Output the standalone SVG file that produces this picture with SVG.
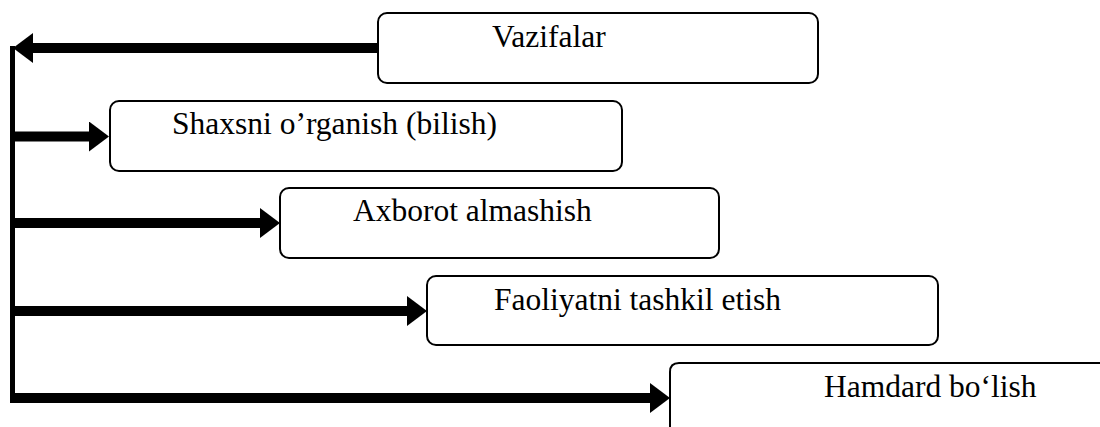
<svg xmlns="http://www.w3.org/2000/svg" width="1100" height="427" viewBox="0 0 1100 427">
  <style>
    .box { fill: #ffffff; stroke: #000000; stroke-width: 2; }
    .label { font-family: "Liberation Serif", "Times New Roman", serif; font-size: 31.5px; fill: #000000; }
    .wire { stroke: #000000; stroke-width: 10; fill: none; }
    .spine { stroke: #000000; stroke-width: 5; fill: none; }
  </style>
  <defs>
    <marker id="head" markerUnits="userSpaceOnUse" markerWidth="20" markerHeight="30" refX="0" refY="15" orient="auto">
      <path d="M0,0 L20,15 L0,30 Z" fill="#000000"/>
    </marker>
  </defs>

  <rect width="1100" height="427" fill="#ffffff"/>

  <!-- connectors -->
  <g id="connectors">
    <line class="spine" x1="12.5" y1="46" x2="12.5" y2="403"/>
    <line class="wire" x1="378" y1="48" x2="33" y2="48" marker-end="url(#head)"/>
    <line class="wire" x1="12" y1="136.5" x2="89" y2="136.5" marker-end="url(#head)"/>
    <line class="wire" x1="12" y1="223" x2="260" y2="223" marker-end="url(#head)"/>
    <line class="wire" x1="12" y1="311" x2="407" y2="311" marker-end="url(#head)"/>
    <line class="wire" x1="10" y1="398" x2="650" y2="398" marker-end="url(#head)"/>
  </g>

  <g id="node-vazifalar">
    <rect class="box" x="378" y="13" width="440" height="70" rx="9"/>
    <text class="label" x="492" y="47">Vazifalar</text>
  </g>

  <g id="node-shaxsni">
    <rect class="box" x="110" y="101" width="512" height="70" rx="9"/>
    <text class="label" x="172" y="134">Shaxsni o’rganish (bilish)</text>
  </g>

  <g id="node-axborot">
    <rect class="box" x="280" y="188" width="439" height="70" rx="9"/>
    <text class="label" x="353" y="221">Axborot almashish</text>
  </g>

  <g id="node-faoliyat">
    <rect class="box" x="427" y="276" width="511" height="69" rx="9"/>
    <text class="label" x="494" y="310">Faoliyatni tashkil etish</text>
  </g>

  <g id="node-hamdard">
    <path class="box" d="M670,428 L670,372 Q670,363 679,363 L1101,363" fill="none"/>
    <text class="label" x="824" y="397">Hamdard bo‘lish</text>
  </g>
</svg>
